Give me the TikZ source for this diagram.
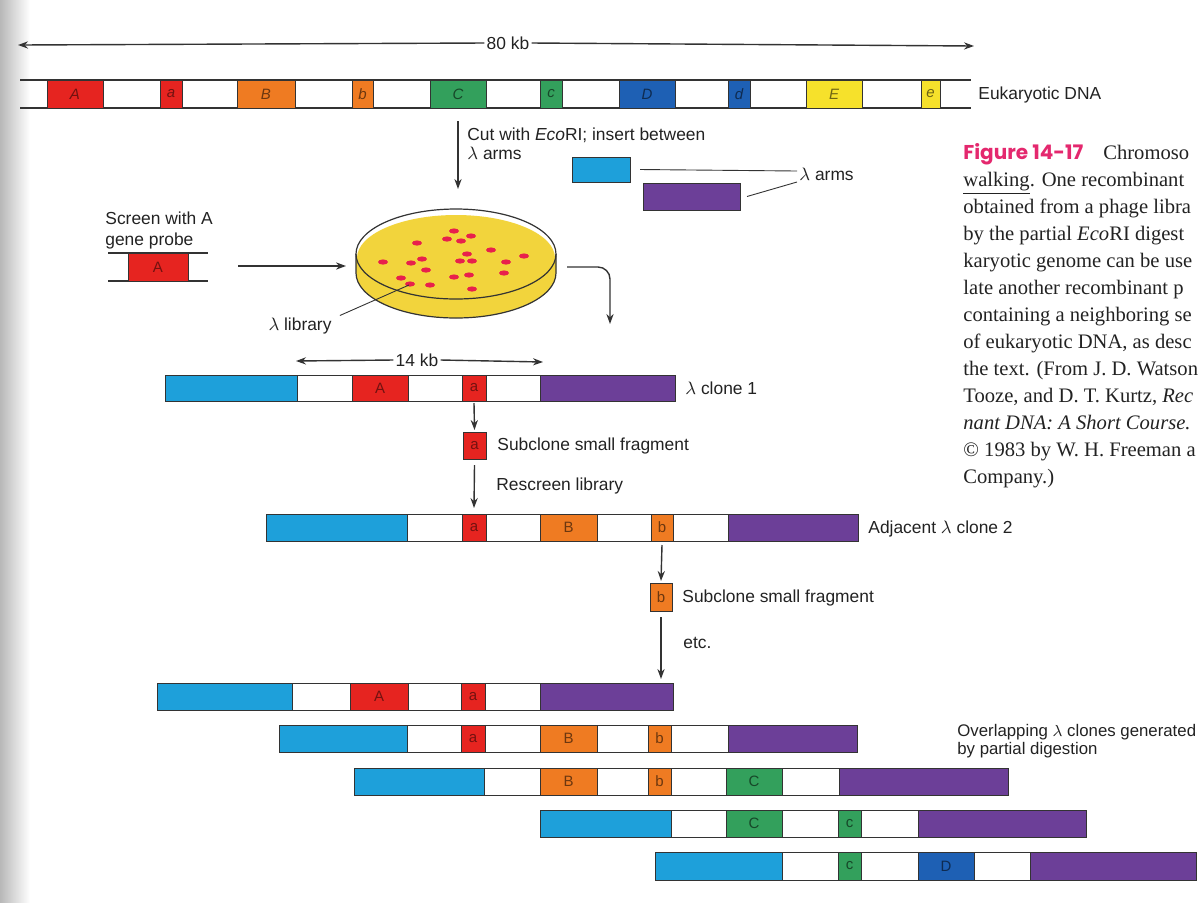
\documentclass[tikz,border=0pt]{standalone}
\usepackage{fontspec}
\newfontfamily\lsans{Liberation Sans}
\newfontfamily\lserif{Liberation Serif}
\newfontfamily\figfont{Poppins}
\usetikzlibrary{arrows.meta}
\definecolor{cy}{HTML}{1EA0DA}
\definecolor{pu}{HTML}{6C3F98}
\definecolor{rd}{HTML}{E62420}
\definecolor{og}{HTML}{EF7B22}
\definecolor{gn}{HTML}{33A05C}
\definecolor{bl}{HTML}{1E60B4}
\definecolor{yl}{HTML}{F6E12B}
\definecolor{dishc}{HTML}{F2D43C}
\definecolor{colc}{HTML}{E8204C}
\definecolor{mag}{HTML}{E4286E}
\definecolor{ln}{HTML}{333333}
\definecolor{txt}{HTML}{222222}
\newcommand{\seg}[7]{\node[blk,#6,minimum width={(#3-#2)*0.5pt},minimum height={(#5-#4)*0.5pt}] (#1) at ({(#2+#3)/2},{(#4+#5)/2}) {#7};}
\begin{document}
\begin{tikzpicture}[x=0.5pt,y=-0.5pt,
  blk/.style={draw=ln,line width=0.5pt,inner sep=0pt,outer sep=0pt,font=\lsans\fontsize{7.5}{8}\selectfont},
  itl/.style={font=\lsans\itshape\fontsize{7.5}{8}\selectfont},
  lab/.style={font=\lsans\fontsize{8.7}{10.5}\selectfont,text=txt,inner sep=1pt},
  arr/.style={-{Stealth[length=5pt,width=3.6pt]},line width=0.7pt,draw=ln},
  strip/.style={line width=0.6pt,draw=ln},
  thinl/.style={line width=0.45pt,draw=ln},
  captxt/.style={font=\lserif\fontsize{10.3}{13.5}\selectfont,text=txt,anchor=base west,inner sep=0pt}]
\useasboundingbox (0,0) rectangle (1201,902);
\shade[left color=black!28,right color=white] (0,0) rectangle (30,902);

% 80 kb scale
\node[lab] (kb80) at (508,43) {80 kb};
\coordinate (kbL) at (18,45);
\coordinate (kbR) at (974,46);
\draw[arr] (kb80.west) -- (kbL);
\draw[arr] (kb80.east) -- (kbR);

% eukaryotic DNA
\coordinate (eL1) at (20,80); \coordinate (eR1) at (971,80);
\coordinate (eL2) at (20,108); \coordinate (eR2) at (971,108);
\draw[strip] (eL1) -- (eR1);
\draw[strip] (eL2) -- (eR2);
\seg{tA}{47}{103}{80}{108}{itl,fill=rd,text=rd!50!black}{A}
\seg{ta}{160}{182}{80}{108}{itl,fill=rd,text=rd!50!black}{a}
\seg{tB}{237}{295}{80}{108}{itl,fill=og,text=og!45!black}{B}
\seg{tb}{352}{373}{80}{108}{itl,fill=og,text=og!45!black}{b}
\seg{tC}{430}{486}{80}{108}{itl,fill=gn,text=gn!45!black}{C}
\seg{tc}{540}{562}{80}{108}{itl,fill=gn,text=gn!45!black}{c}
\seg{tD}{619}{675}{80}{108}{itl,fill=bl,text=bl!45!black}{D}
\seg{td}{728}{750}{80}{108}{itl,fill=bl,text=bl!45!black}{d}
\seg{tE}{806}{862}{80}{108}{itl,fill=yl,text=yl!45!black}{E}
\seg{te}{921}{940}{80}{108}{itl,fill=yl,text=yl!45!black}{e}
\node[lab,anchor=west] (euk) at (976,95) {Eukaryotic DNA};

% cut arrow
\coordinate (cutS) at (458,121);
\coordinate (cutE) at (458,189);
\draw[arr] (cutS) -- (cutE);
\node[lab,anchor=north west,align=left,font=\lsans\fontsize{8.7}{9.5}\selectfont] (cut) at (465,125) {Cut with \textit{Eco}RI; insert between\\$\lambda$ arms};

% lambda arms
\seg{armC}{572}{630}{157}{182}{fill=cy}{}
\seg{armP}{643}{740}{183}{210}{fill=pu}{}
\node[lab,anchor=west] (arms) at (797,174) {$\lambda$ arms};
\draw[thinl] ([xshift=5pt]armC.east) -- ([yshift=1.5pt]arms.west);
\draw[thinl] ([xshift=3.5pt]armP.east) -- ([yshift=-4pt]arms.west);

% probe
\node[lab,anchor=north west,align=left] (screen) at (103,209) {Screen with A\\gene probe};
\coordinate (pL1) at (108,253); \coordinate (pR1) at (208,253);
\coordinate (pL2) at (108,281); \coordinate (pR2) at (208,281);
\draw[strip] (pL1) -- (pR1);
\draw[strip] (pL2) -- (pR2);
\seg{prA}{128}{188}{253}{281}{fill=rd,text=rd!50!black}{A}
\coordinate (dishL) at (346,266);
\draw[arr] (238,266) -- (dishL);

% petri dish
\fill[dishc] (356,254) -- (356,273) arc[start angle=180,end angle=0,x radius=100,y radius=45] -- (556,254) -- cycle;
\fill[white] (456,254) ellipse[x radius=100,y radius=45];
\fill[dishc] (456,258) ellipse[x radius=99,y radius=43];
\draw[thinl,line width=0.6pt] (356,254) -- (356,273) arc[start angle=180,end angle=0,x radius=100,y radius=45] -- (556,254);
\draw[thinl,line width=0.6pt] (456,254) ellipse[x radius=100,y radius=45];
\foreach \x/\y in {454/231,471/236,447/239,461/241,417/243,491/250,467/254,422/259,524/256,383/262,411/263,460/261,472/261,506/262,426/270,469/275,454/277,504/273,401/278,410/284,430/285,472/289}
  \fill[colc] (\x,\y) ellipse[x radius=5,y radius=2.6];
\coordinate (d20) at (409,285);
\node[lab] (lib) at (300,326) {$\lambda$ library};
\draw[thinl] ([xshift=3pt]lib.north east) -- (d20);

% bent arrow
\coordinate (bS) at (567,267);
\coordinate (bE) at (610,324);
\draw[arr,rounded corners=6pt] (bS) -- (bS -| bE) -- (bE);

% 14 kb
\node[lab] (kb14) at (417,360) {14 kb};
\coordinate (k14L) at (296,361);
\coordinate (k14R) at (543,362);
\draw[arr] (kb14.west) -- (k14L);
\draw[arr] (kb14.east) -- (k14R);

% clone 1
\seg{c1}{165}{675}{375}{401}{fill=white}{}
\seg{c1C}{165}{297}{375}{401}{fill=cy}{}
\seg{c1A}{352}{408}{375}{401}{fill=rd,text=rd!50!black}{A}
\seg{c1a}{462}{486}{375}{401}{fill=rd,text=rd!50!black}{a}
\seg{c1P}{540}{675}{375}{401}{fill=pu}{}
\node[lab,anchor=west] (c1lab) at (683,388) {$\lambda$ clone 1};

\seg{sa}{463}{486}{432}{459}{fill=rd,text=rd!50!black}{a}
\draw[arr] ([yshift=-1pt]c1a.south) -- ([yshift=1pt]sa.north);
\node[lab,anchor=west] (sub1) at (495,446) {Subclone small fragment};

% clone 2
\seg{c2}{266}{858}{514}{541}{fill=white}{}
\seg{c2C}{266}{407}{514}{541}{fill=cy}{}
\seg{c2a}{462}{486}{514}{541}{fill=rd,text=rd!50!black}{a}
\seg{c2B}{540}{597}{514}{541}{fill=og,text=og!45!black}{B}
\seg{c2b}{651}{673}{514}{541}{fill=og,text=og!45!black}{b}
\seg{c2P}{728}{858}{514}{541}{fill=pu}{}
\node[lab,anchor=west] (c2lab) at (866,529) {Adjacent $\lambda$ clone 2};
\draw[arr] ([yshift=-3pt]sa.south) -- ([yshift=3pt]c2a.north);
\node[lab,anchor=west] (rescr) at (494,486) {Rescreen library};

\seg{sb}{650}{672}{583}{611}{fill=og,text=og!45!black}{b}
\draw[arr] ([yshift=-2pt]c2b.south) -- ([yshift=1pt]sb.north);
\node[lab,anchor=west] (sub2) at (680,598) {Subclone small fragment};
\node[lab,anchor=west] (etc) at (681,643) {etc.};

% overlapping clones
\seg{r1}{157}{673}{683}{710}{fill=white}{}
\seg{r1C}{157}{292}{683}{710}{fill=cy}{}
\seg{r1A}{350}{408}{683}{710}{fill=rd,text=rd!50!black}{A}
\seg{r1a}{461}{485}{683}{710}{fill=rd,text=rd!50!black}{a}
\seg{r1P}{540}{673}{683}{710}{fill=pu}{}
\coordinate (etcE) at (661,679);
\draw[arr] ([yshift=-3pt]sb.south) -- (etcE);

\seg{r2}{279}{857}{725}{752}{fill=white}{}
\seg{r2C}{279}{407}{725}{752}{fill=cy}{}
\seg{r2a}{461}{485}{725}{752}{fill=rd,text=rd!50!black}{a}
\seg{r2B}{540}{597}{725}{752}{fill=og,text=og!45!black}{B}
\seg{r2b}{648}{671}{725}{752}{fill=og,text=og!45!black}{b}
\seg{r2P}{728}{857}{725}{752}{fill=pu}{}

\seg{r3}{354}{1008}{768}{795}{fill=white}{}
\seg{r3C}{354}{484}{768}{795}{fill=cy}{}
\seg{r3B}{540}{597}{768}{795}{fill=og,text=og!45!black}{B}
\seg{r3b}{648}{671}{768}{795}{fill=og,text=og!45!black}{b}
\seg{r3G}{726}{782}{768}{795}{fill=gn,text=gn!45!black}{C}
\seg{r3P}{839}{1008}{768}{795}{fill=pu}{}

\seg{r4}{540}{1086}{810}{837}{fill=white}{}
\seg{r4C}{540}{671}{810}{837}{fill=cy}{}
\seg{r4G}{726}{782}{810}{837}{fill=gn,text=gn!45!black}{C}
\seg{r4g}{838}{861}{810}{837}{fill=gn,text=gn!45!black}{c}
\seg{r4P}{918}{1086}{810}{837}{fill=pu}{}

\seg{r5}{655}{1196}{852}{880}{fill=white}{}
\seg{r5C}{655}{782}{852}{880}{fill=cy}{}
\seg{r5g}{838}{861}{852}{880}{fill=gn,text=gn!45!black}{c}
\seg{r5D}{918}{974}{852}{880}{fill=bl,text=bl!45!black}{D}
\seg{r5P}{1030}{1196}{852}{880}{fill=pu}{}

\node[lab,anchor=west,align=left,font=\lsans\fontsize{8.4}{9}\selectfont] (ovl) at (955,741) {Overlapping $\lambda$ clones generated\\by partial digestion};

% caption
\node[captxt] (cap1) at (963,159) {{\figfont\bfseries\fontsize{10}{12}\selectfont\color{mag}Figure 14-17}\hspace{10pt}Chromoso};
\node[captxt] (cap2) at (963,186) {\underline{walking}. One recombinant};
\node[captxt] (cap3) at (963,213) {obtained from a phage libra};
\node[captxt] (cap4) at (963,240) {by the partial \textit{Eco}RI digest};
\node[captxt] (cap5) at (963,267) {karyotic genome can be use};
\node[captxt] (cap6) at (963,294) {late another recombinant p};
\node[captxt] (cap7) at (963,321) {containing a neighboring se};
\node[captxt] (cap8) at (963,348) {of eukaryotic DNA, as desc};
\node[captxt] (cap9) at (963,375) {the text. (From J. D. Watson};
\node[captxt] (cap10) at (963,402) {Tooze, and D. T. Kurtz, \textit{Rec}};
\node[captxt] (cap11) at (963,429) {\textit{nant DNA: A Short Course.}};
\node[captxt] (cap12) at (963,456) {© 1983 by W. H. Freeman a};
\node[captxt] (cap13) at (963,483) {Company.)};
\end{tikzpicture}
\end{document}
